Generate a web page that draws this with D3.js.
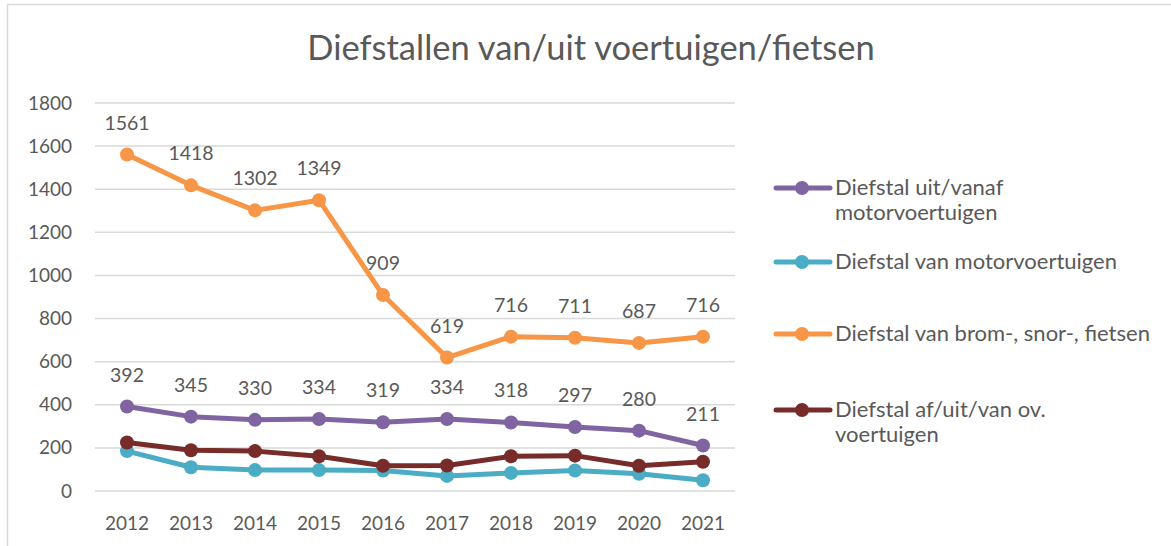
<!DOCTYPE html>
<html>
<head>
<meta charset="utf-8">
<script src="https://cdn.jsdelivr.net/npm/d3@7"></script>
<style>
  body { margin: 0; background: #fff; }
  text { font-family: Lato, 'Open Sans', sans-serif; fill: #595959; }
</style>
</head>
<body>
<svg id="chart" width="1171" height="546"></svg>
<script>
const years = ['2012', '2013', '2014', '2015', '2016', '2017', '2018', '2019', '2020', '2021'];
const yTicks = [0, 200, 400, 600, 800, 1000, 1200, 1400, 1600, 1800];

const uitMotor = [392, 345, 330, 334, 319, 334, 318, 297, 280, 211];
const vanMotor = [185, 110, 97, 97, 95, 70, 84, 95, 80, 50];
const bromFiets = [1561, 1418, 1302, 1349, 909, 619, 716, 711, 687, 716];
const ovVoertuig = [225, 189, 185, 161, 117, 118, 161, 164, 117, 136];

const series = [
  { name: ['Diefstal uit/vanaf', 'motorvoertuigen'], values: uitMotor, color: '#8064a2', labels: true, ly: 188 },
  { name: ['Diefstal van motorvoertuigen'], values: vanMotor, color: '#4bacc6', labels: false, ly: 262 },
  { name: ['Diefstal van brom-, snor-, fietsen'], values: bromFiets, color: '#f79646', labels: true, ly: 334 },
  { name: ['Diefstal af/uit/van ov.', 'voertuigen'], values: ovVoertuig, color: '#772c2a', labels: false, ly: 410 },
];

const svg = d3.select('#chart');

// chart frame (only top and left edge fall inside the picture)
svg.append('rect')
  .attr('x', 7.5).attr('y', 4.5)
  .attr('width', 1200).attr('height', 600)
  .attr('fill', 'none').attr('stroke', '#d9d9d9').attr('stroke-width', 1.5);

svg.append('text')
  .attr('x', 591).attr('y', 60)
  .attr('text-anchor', 'middle')
  .style('font-size', '34.5px')
  .text('Diefstallen van/uit voertuigen/fietsen');

const x = d3.scaleBand().domain(years).range([95, 735]);
const y = d3.scaleLinear().domain([0, 1800]).range([491, 103]);

// gridlines
svg.append('g')
  .selectAll('line')
  .data(yTicks)
  .join('line')
  .attr('x1', 95).attr('x2', 735)
  .attr('y1', (d) => y(d)).attr('y2', (d) => y(d))
  .attr('stroke', '#d9d9d9').attr('stroke-width', 1.5);

const yAxis = svg.append('g')
  .attr('transform', 'translate(72,0)')
  .call(d3.axisLeft(y).tickValues(yTicks).tickFormat(d3.format('d')).tickSize(0).tickPadding(0));
yAxis.select('.domain').remove();
yAxis.selectAll('text')
  .style('font-size', '19px').style('font-family', 'Lato, sans-serif').attr('fill', '#595959');

const xAxis = svg.append('g')
  .attr('transform', 'translate(0,516)')
  .call(d3.axisBottom(x).tickSize(0).tickPadding(0));
xAxis.select('.domain').remove();
xAxis.selectAll('text')
  .style('font-size', '19px').style('font-family', 'Lato, sans-serif').attr('fill', '#595959');

const cx = (i) => x(years[i]) + x.bandwidth() / 2;
const line = d3.line().x((d, i) => cx(i)).y((d) => y(d));

series.forEach((s) => {
  const g = svg.append('g');
  g.append('path')
    .attr('d', line(s.values))
    .attr('fill', 'none')
    .attr('stroke', s.color)
    .attr('stroke-width', 5)
    .attr('stroke-linejoin', 'round');
  g.selectAll('circle')
    .data(s.values)
    .join('circle')
    .attr('cx', (d, i) => cx(i))
    .attr('cy', (d) => y(d))
    .attr('r', 7)
    .attr('fill', s.color);
  if (s.labels) {
    g.selectAll('text')
      .data(s.values)
      .join('text')
      .attr('x', (d, i) => cx(i))
      .attr('y', (d) => y(d) - 25)
      .attr('text-anchor', 'middle')
      .style('font-size', '19.5px')
      .text((d) => d);
  }
});

// legend
const legend = svg.append('g');
series.forEach((s) => {
  const item = legend.append('g').attr('transform', `translate(0,${s.ly})`);
  item.append('line')
    .attr('x1', 776).attr('x2', 830)
    .attr('stroke', s.color).attr('stroke-width', 5).attr('stroke-linecap', 'round');
  item.append('circle').attr('cx', 802).attr('r', 7).attr('fill', s.color);
  item.selectAll('text')
    .data(s.name)
    .join('text')
    .attr('x', 835)
    .attr('y', (d, i) => i * 25 + 7)
    .style('font-size', '22px')
    .text((d) => d);
});
</script>
</body>
</html>
